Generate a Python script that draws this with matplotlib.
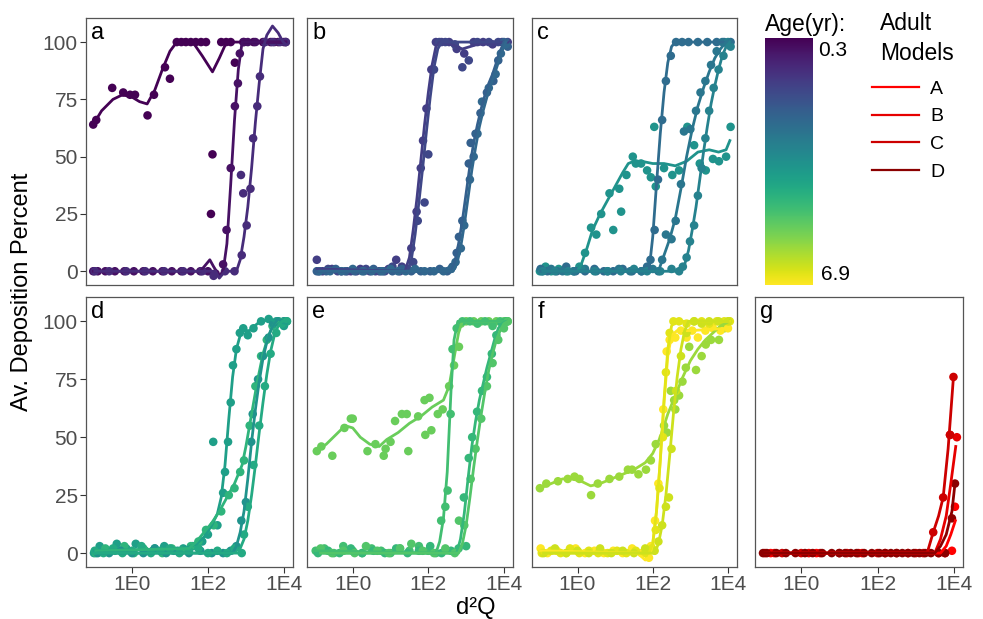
import numpy as np
import matplotlib
matplotlib.use("Agg")
import matplotlib.pyplot as plt
from matplotlib.colors import Normalize
from matplotlib.cm import ScalarMappable
from matplotlib.lines import Line2D

plt.rcParams['font.family'] = ['Liberation Sans', 'DejaVu Sans']

# x values are log10(d2Q); p* = measured points, l* = smoothed curve read off the chart
# ---- panel a ----
a1_px = [-1.02, -0.94, -0.52, -0.23, -0.05, 0.08, 0.41, 0.58, 0.87, 1.0, 1.18, 1.3, 1.42, 1.55, 1.68, 1.82, 1.95, 2.08, 2.12, 2.35, 2.48, 2.6, 2.71, 2.95, 3.2, 3.45, 3.65, 3.85, 4.05]
a1_py = [64, 66, 80, 78, 77, 77, 68, 77, 89, 84, 100, 100, 100, 100, 100, 100, 100, 25, 51, 100, 100, 100, 91, 100, 100, 100, 100, 100, 100]
a1_lx = [-1.02, -0.8, -0.5, -0.25, 0.0, 0.2, 0.4, 0.6, 0.8, 1.0, 1.18, 1.4, 1.6, 1.85, 2.12, 2.3, 2.49, 4.05]
a1_ly = [64, 70, 75, 77, 76, 74, 73, 79, 88, 96, 100, 101, 100, 94, 87, 93, 100, 100]
a2_px = [-1.02, -0.9, -0.7, -0.45, -0.2, 0.05, 0.3, 0.55, 0.8, 1.05, 1.3, 1.55, 1.8, 2.0, 2.2, 2.4, 2.49, 2.6, 2.71, 2.79, 2.84, 2.93, 3.05, 3.25, 3.5, 3.75, 4.0]
a2_py = [0, 0, 0, 0, 0, 0, 0, 0, 0, 0, 0, 0, 0, 0, -1, 3, 18, 45, 72, 82, 95, 100, 100, 100, 100, 100, 100]
a2_lx = [-1.02, 1.8, 1.95, 2.05, 2.15, 2.3, 2.4, 2.5, 2.6, 2.7, 2.8, 2.9, 4.05]
a2_ly = [0, 0, 3, 5, 2, -2, 0, 12, 38, 66, 88, 100, 100]
a3_px = [-0.98, -0.6, -0.15, 0.35, 0.85, 1.35, 1.85, 2.15, 2.45, 2.7, 2.87, 2.89, 2.93, 3.02, 3.12, 3.19, 3.3, 3.37, 3.5, 3.7, 3.9, 4.05]
a3_py = [0, 0, 0, 0, 0, 0, 0, -2, 0, 0, 42, 7, 34, 20, 36, 58, 72, 85, 100, 100, 100, 100]
a3_lx = [-0.98, 2.2, 2.3, 2.45, 2.75, 2.85, 2.95, 3.05, 3.15, 3.25, 3.35, 3.45, 3.55, 3.7, 3.85, 3.98, 4.05]
a3_ly = [0, 0, -3, 0, 0, 5, 15, 28, 45, 65, 82, 97, 103, 107, 104, 100, 99]
ages_a = [0.3, 0.6, 1.1]

# ---- panel b ----
b1_px = [-0.95, -0.8, -0.55, -0.3, -0.05, 0.2, 0.45, 0.7, 0.95, 1.15, 1.3, 1.42, 1.55, 1.69, 1.8, 1.86, 1.95, 2.08, 2.2, 2.35, 2.55, 2.75, 2.95, 3.2, 3.45, 3.7, 3.95, 4.1]
b1_py = [5, 0, 1, 0, 0, 1, 0, 0, 1, 5, 2, 1, 10, 26, 45, 57, 71, 88, 100, 100, 100, 97, 95, 100, 100, 99, 100, 100]
b1_lx = [-0.95, 1.38, 1.5, 1.6, 1.7, 1.8, 1.9, 2.0, 2.1, 2.2, 2.3, 2.6, 2.9, 3.3, 4.1]
b1_ly = [1, 0, 6, 18, 32, 48, 64, 78, 90, 98, 100, 99, 97, 99, 100]
b2_px = [-0.9, -0.65, -0.4, -0.15, 0.1, 0.35, 0.6, 0.85, 1.05, 1.25, 1.45, 1.6, 1.72, 1.9, 2.0, 2.15, 2.29, 2.45, 2.7, 2.9, 3.07, 3.3, 3.6, 3.85, 4.05]
b2_py = [0, 1, 0, 0, 0, 1, 0, 0, 2, 0, 1, 4, 22, 30, 51, 88, 100, 100, 99, 89, 92, 100, 100, 100, 99]
b2_lx = [-0.9, 1.45, 1.55, 1.65, 1.75, 1.85, 1.95, 2.05, 2.15, 2.25, 2.35, 4.05]
b2_ly = [0, 0, 5, 16, 30, 45, 61, 76, 89, 97, 100, 100]
b3_px = [-0.95, -0.7, -0.45, -0.2, 0.05, 0.3, 0.55, 0.8, 1.05, 1.3, 1.55, 1.8, 2.05, 2.3, 2.5, 2.64, 2.75, 2.81, 2.9, 3.07, 3.12, 3.25, 3.38, 3.55, 3.72, 3.85, 4.0, 4.1]
b3_py = [0, 0, 1, 0, 0, 0, 1, 0, 0, 1, 0, 0, 0, 1, 0, 2, 8, 15, 22, 47, 56, 60, 69, 78, 83, 92, 100, 98]
b3_lx = [-0.95, 2.6, 2.7, 2.8, 2.9, 3.0, 3.1, 3.2, 3.3, 3.4, 3.5, 3.6, 3.7, 3.8, 3.9, 4.0, 4.1]
b3_ly = [0, 0, 4, 12, 22, 34, 46, 56, 64, 71, 77, 82, 86, 91, 96, 100, 101]
b4_px = [-0.88, -0.6, -0.3, 0.0, 0.25, 0.5, 0.75, 1.0, 1.2, 1.4, 1.65, 1.9, 2.15, 2.4, 2.6, 2.72, 2.86, 2.95, 3.1, 3.2, 3.3, 3.42, 3.6, 3.78, 3.92, 4.05]
b4_py = [0, 0, 0, 1, 0, 0, 0, 1, 0, 0, 1, 0, 0, 0, 1, 4, 10, 20, 40, 50, 60, 74, 80, 86, 95, 99]
b4_lx = [-0.88, 2.65, 2.75, 2.85, 2.95, 3.05, 3.15, 3.25, 3.35, 3.45, 3.55, 3.65, 3.75, 3.85, 3.95, 4.05]
b4_ly = [0, 0, 3, 10, 20, 32, 44, 54, 63, 70, 76, 81, 86, 91, 96, 100]
ages_b = [1.5, 1.7, 2.3, 2.5]

# ---- panel c ----
c1_px = [-1.0, -0.85, -0.7, -0.5, -0.3, -0.1, 0.05, 0.2, 0.36, 0.5, 0.63, 0.85, 0.95, 1.11, 1.16, 1.3, 1.47, 1.55, 1.69, 1.85, 1.95, 2.04, 2.08, 2.3, 2.52, 2.7, 2.92, 3.1, 3.25, 3.41, 3.6, 3.76, 3.95, 4.07]
c1_py = [0, 2, 0, 1, 0, 0, 2, 8, 19, 16, 25, 34, 18, 36, 26, 42, 50, 47, 47, 44, 41, 63, 37, 45, 42, 44, 63, 55, 47, 44, 49, 48, 50, 63]
c1_lx = [-1.0, 0.0, 0.1, 0.25, 0.4, 0.6, 0.8, 1.0, 1.2, 1.35, 1.5, 1.7, 2.0, 2.3, 2.6, 2.9, 3.2, 3.5, 3.75, 3.95, 4.05]
c1_ly = [0, 0, 3, 10, 18, 25, 31, 37, 43, 47, 48, 48, 47, 47, 46, 48, 52, 53, 52, 53, 57]
c2_px = [-0.98, -0.8, -0.55, -0.3, -0.05, 0.2, 0.45, 0.7, 0.95, 1.2, 1.45, 1.7, 1.85, 1.94, 2.05, 2.14, 2.25, 2.35, 2.48, 2.62, 2.78, 2.95, 3.2, 3.45, 3.7, 3.9, 4.07]
c2_py = [1, 0, 0, 2, 0, 0, 1, 0, 0, 1, 0, 0, 2, 5, 18, 40, 66, 83, 94, 100, 100, 100, 100, 100, 100, 100, 100]
c2_lx = [-0.98, 1.9, 2.0, 2.1, 2.2, 2.3, 2.4, 2.5, 2.6, 4.07]
c2_ly = [0, 0, 15, 38, 60, 78, 91, 98, 100, 100]
c3_px = [-0.95, -0.7, -0.4, -0.1, 0.2, 0.5, 0.8, 1.1, 1.4, 1.7, 2.0, 2.15, 2.25, 2.35, 2.5, 2.61, 2.75, 2.83, 3.0, 3.15, 3.27, 3.4, 3.55, 3.7, 3.85, 4.0]
c3_py = [0, 1, 0, 0, 1, 0, 0, 1, 0, 0, 1, 0, 5, 16, 14, 22, 38, 61, 62, 70, 78, 83, 90, 96, 100, 99]
c3_lx = [-0.95, 2.15, 2.3, 2.45, 2.6, 2.75, 2.9, 3.05, 3.2, 3.35, 3.5, 3.65, 3.8, 3.95, 4.05]
c3_ly = [0, 0, 7, 14, 23, 36, 50, 62, 72, 80, 87, 93, 97, 100, 101]
c4_px = [-0.92, -0.6, -0.25, 0.1, 0.45, 0.8, 1.15, 1.5, 1.85, 2.2, 2.5, 2.7, 2.8, 2.9, 2.99, 3.1, 3.2, 3.3, 3.4, 3.5, 3.62, 3.75, 3.88, 4.0, 4.07]
c4_py = [0, 0, 0, 1, 0, 0, 0, 1, 0, 0, 1, 0, 2, 6, 13, 20, 33, 45, 58, 70, 80, 88, 94, 100, 98]
c4_lx = [-0.92, 2.75, 2.85, 2.95, 3.05, 3.15, 3.25, 3.35, 3.45, 3.55, 3.65, 3.75, 3.85, 3.95, 4.05]
c4_ly = [0, 0, 3, 9, 18, 28, 40, 52, 63, 73, 81, 88, 94, 98, 100]
ages_c = [3.7, 2.6, 2.9, 3.2]

# ---- panel d ----
d1_px = [-1.0, -0.85, -0.65, -0.4, -0.15, 0.1, 0.35, 0.6, 0.85, 1.1, 1.35, 1.6, 1.85, 2.0, 2.14, 2.25, 2.4, 2.45, 2.53, 2.6, 2.66, 2.75, 2.84, 2.93, 3.05, 3.2, 3.4, 3.6, 3.8, 4.0, 4.08]
d1_py = [0, 3, 1, 4, 2, 4, 1, 2, 3, 1, 2, 3, 5, 8, 48, 12, 26, 35, 48, 65, 81, 88, 95, 97, 94, 97, 100, 101, 100, 98, 100]
d1_lx = [-1.0, 1.4, 1.7, 1.9, 2.1, 2.25, 2.35, 2.45, 2.55, 2.65, 2.75, 2.85, 2.95, 3.1, 3.3, 3.6, 3.8, 4.08]
d1_ly = [1, 2, 4, 7, 12, 17, 24, 38, 58, 76, 88, 94, 96, 96, 99, 101, 100, 99]
d2_px = [-0.95, -0.7, -0.45, -0.2, 0.05, 0.3, 0.55, 0.8, 1.05, 1.3, 1.55, 1.75, 1.95, 2.15, 2.35, 2.55, 2.7, 2.85, 2.95, 3.1, 3.25, 3.4, 3.55, 3.7, 3.85, 4.0]
d2_py = [0, 2, 1, 3, 0, 2, 1, 0, 2, 1, 3, 5, 10, 12, 18, 25, 28, 35, 40, 55, 72, 85, 92, 98, 100, 100]
d2_lx = [-0.95, 1.5, 1.7, 1.9, 2.1, 2.3, 2.5, 2.7, 2.9, 3.0, 3.15, 3.3, 3.45, 3.6, 3.75, 3.9, 4.05]
d2_ly = [1, 2, 5, 9, 13, 18, 24, 30, 38, 46, 60, 74, 86, 94, 99, 101, 100]
d3_px = [-0.9, -0.6, -0.3, 0.0, 0.3, 0.6, 0.9, 1.2, 1.5, 1.8, 2.1, 2.4, 2.6, 2.75, 2.88, 3.0, 3.14, 3.18, 3.32, 3.45, 3.6, 3.72, 3.85, 4.0]
d3_py = [0, 0, 1, 0, 0, 2, 0, 1, 0, 1, 0, 0, 1, 3, 14, 22, 48, 60, 75, 85, 93, 99, 100, 100]
d3_lx = [-0.9, 2.65, 2.75, 2.85, 2.95, 3.05, 3.15, 3.25, 3.35, 3.45, 3.55, 3.65, 3.75, 3.85, 4.0]
d3_ly = [0, 0, 3, 9, 18, 32, 48, 62, 74, 84, 91, 96, 99, 101, 100]
d4_px = [-0.98, -0.75, -0.5, -0.25, 0.0, 0.25, 0.5, 0.75, 1.0, 1.25, 1.5, 1.75, 2.0, 2.25, 2.5, 2.7, 2.89, 2.95, 3.05, 3.2, 3.35, 3.5, 3.65, 3.8, 3.95, 4.08]
d4_py = [1, 0, 2, 0, 1, 3, 0, 1, 2, 0, 1, 2, 0, 1, 0, 2, 0, 8, 20, 38, 55, 72, 86, 95, 99, 100]
d4_lx = [-0.98, 2.8, 2.95, 3.05, 3.15, 3.25, 3.35, 3.45, 3.55, 3.65, 3.75, 3.85, 3.95, 4.08]
d4_ly = [0, 0, 6, 14, 25, 38, 52, 65, 77, 87, 94, 98, 100, 100]
ages_d = [4.0, 4.6, 3.7, 4.3]

# ---- panel e ----
e1_px = [-0.95, -0.83, -0.54, -0.22, -0.05, 0.0, 0.39, 0.6, 0.82, 0.87, 1.0, 1.12, 1.3, 1.43, 1.47, 1.73, 1.9, 1.92, 2.03, 2.08, 2.25, 2.38, 2.55, 2.68, 2.81, 2.86, 3.0, 3.2, 3.4, 3.6, 3.8, 4.0, 4.1]
e1_py = [44, 46, 42, 54, 58, 58, 44, 47, 42, 45, 48, 57, 60, 60, 44, 59, 66, 51, 67, 53, 60, 62, 72, 81, 89, 99, 100, 100, 100, 100, 100, 100, 100]
e1_lx = [-0.95, -0.7, -0.45, -0.2, 0.0, 0.2, 0.45, 0.7, 0.9, 1.2, 1.5, 1.8, 2.1, 2.4, 2.55, 2.7, 2.8, 2.9, 4.1]
e1_ly = [44, 47, 51, 55, 54, 50, 47, 46, 49, 52, 56, 59, 63, 66, 72, 86, 95, 100, 100]
e2_px = [-0.98, -0.75, -0.5, -0.25, 0.0, 0.25, 0.5, 0.75, 1.0, 1.25, 1.5, 1.75, 2.0, 2.2, 2.34, 2.45, 2.51, 2.59, 2.64, 2.75, 2.9, 3.1, 3.3, 3.5, 3.7, 3.9, 4.05]
e2_py = [1, 2, 0, 3, 1, 0, 2, 1, 0, 2, 1, 3, 1, 0, 14, 20, 27, 60, 88, 97, 100, 100, 99, 100, 98, 100, 100]
e2_lx = [-0.98, 2.2, 2.3, 2.4, 2.5, 2.6, 2.68, 2.78, 4.05]
e2_ly = [1, 0, 5, 15, 35, 70, 92, 100, 100]
e3_px = [-0.92, -0.65, -0.35, -0.05, 0.25, 0.55, 0.85, 1.15, 1.45, 1.75, 2.05, 2.35, 2.6, 2.8, 2.94, 3.0, 3.07, 3.16, 3.29, 3.42, 3.55, 3.68, 3.8, 3.95, 4.08]
e3_py = [0, 1, 0, 2, 0, 1, 0, 2, 0, 1, 3, 0, 1, 2, 24, 3, 41, 50, 61, 70, 76, 86, 94, 99, 100]
e3_lx = [-0.92, 2.75, 2.85, 2.95, 3.05, 3.15, 3.25, 3.35, 3.45, 3.55, 3.65, 3.75, 3.85, 3.95, 4.08]
e3_ly = [0, 0, 6, 17, 32, 46, 57, 66, 73, 80, 86, 92, 97, 99, 100]
e4_px = [-0.85, -0.55, -0.25, 0.05, 0.35, 0.65, 0.95, 1.25, 1.55, 1.85, 2.15, 2.45, 2.7, 2.81, 2.95, 3.12, 3.25, 3.4, 3.55, 3.7, 3.85, 4.0, 4.1]
e4_py = [2, 0, 1, 0, 3, 1, 0, 2, 4, 1, 0, 2, 0, 14, 12, 32, 45, 58, 72, 82, 92, 97, 100]
e4_lx = [-0.85, 2.8, 2.9, 3.0, 3.1, 3.2, 3.3, 3.4, 3.5, 3.6, 3.7, 3.8, 3.9, 4.0, 4.1]
e4_ly = [0, 0, 4, 12, 24, 37, 49, 60, 70, 79, 86, 92, 96, 99, 100]
ages_e = [5.4, 4.9, 4.7, 5.1]

# ---- panel f ----
f1_px = [-1.0, -0.83, -0.52, -0.26, -0.08, 0.05, 0.36, 0.54, 0.85, 1.11, 1.34, 1.45, 1.62, 1.82, 1.95, 2.08, 2.3, 2.38, 2.48, 2.57, 2.6, 2.7, 2.79, 2.88, 2.97, 3.15, 3.3, 3.41, 3.55, 3.76, 3.9, 4.03]
f1_py = [28, 30, 31, 32, 33, 32, 25, 30, 32, 33, 36, 36, 34, 36, 40, 47, 55, 52, 70, 66, 62, 68, 74, 80, 89, 79, 85, 90, 92, 92, 97, 100]
f1_lx = [-1.0, -0.7, -0.4, -0.15, 0.1, 0.35, 0.6, 0.9, 1.2, 1.5, 1.8, 2.0, 2.2, 2.4, 2.6, 2.8, 3.0, 3.2, 3.4, 3.6, 3.8, 4.03]
f1_ly = [28, 30, 32, 32, 31, 29, 30, 32, 34, 36, 39, 43, 50, 60, 68, 76, 83, 88, 92, 95, 98, 100]
f2_px = [-0.98, -0.8, -0.55, -0.3, -0.05, 0.2, 0.45, 0.7, 0.95, 1.2, 1.45, 1.7, 1.9, 1.95, 2.06, 2.15, 2.28, 2.37, 2.45, 2.6, 2.75, 2.9, 3.05, 3.2, 3.4, 3.6, 3.8, 4.0]
f2_py = [2, 0, 1, 0, 2, 0, 1, 0, 1, 0, 2, 0, -2, 3, 14, 30, 62, 87, 92, 93, 96, 93, 96, 93, 96, 97, 96, 97]
f2_lx = [-0.98, 1.6, 1.8, 1.9, 2.0, 2.1, 2.2, 2.3, 2.4, 2.5, 2.65, 3.0, 4.0]
f2_ly = [1, 0, -3, -2, 4, 18, 40, 65, 85, 94, 96, 96, 97]
f3_px = [-0.95, -0.7, -0.45, -0.2, 0.05, 0.3, 0.55, 0.8, 1.05, 1.3, 1.55, 1.8, 1.98, 2.08, 2.18, 2.27, 2.35, 2.45, 2.55, 2.7, 2.9, 3.1, 3.3, 3.5, 3.7, 3.9, 4.05]
f3_py = [0, 1, 0, 2, 0, 1, 0, 0, 1, 0, 1, 0, 2, 10, 28, 50, 78, 95, 100, 100, 99, 100, 100, 99, 100, 100, 100]
f3_lx = [-0.95, 1.9, 2.0, 2.1, 2.2, 2.3, 2.4, 2.5, 2.6, 4.05]
f3_ly = [0, 0, 4, 18, 40, 66, 88, 98, 100, 100]
f4_px = [-0.9, -0.6, -0.3, 0.0, 0.3, 0.6, 0.9, 1.2, 1.5, 1.8, 2.05, 2.15, 2.25, 2.35, 2.43, 2.5, 2.62, 2.75, 2.9, 3.1, 3.3, 3.5, 3.75, 4.0]
f4_py = [0, 2, 0, 1, 0, 2, 0, 1, 0, 2, 1, 5, 12, 20, 24, 45, 70, 85, 95, 100, 99, 100, 100, 100]
f4_lx = [-0.9, 2.05, 2.15, 2.25, 2.35, 2.45, 2.55, 2.65, 2.75, 2.85, 2.95, 4.0]
f4_ly = [0, 0, 4, 12, 25, 42, 60, 76, 88, 96, 100, 100]
ages_f = [5.9, 6.9, 6.6, 6.4]

# ---- panel g (adult models) ----
gA_px = [-0.8, 0.4, 1.6, 2.8, 3.77, 3.95, 4.03]
gA_py = [0, 0, 0, 0, 0, 1, 20]
gA_lx = [-0.8, 3.65, 3.8, 3.92, 4.04]
gA_ly = [0, 0, 3, 8, 14]
gB_px = [-0.7, 0.2, 1.2, 2.2, 3.2, 3.6, 3.9, 4.08]
gB_py = [0, 0, 0, 0, 0, 0, 51, 50]
gB_lx = [-0.7, 3.5, 3.65, 3.8, 3.92, 4.05]
gB_ly = [0, 0, 6, 16, 30, 46]
gC_px = [-0.95, -0.5, 0.0, 0.5, 1.0, 1.5, 2.0, 2.5, 3.0, 3.46, 3.72, 3.9, 3.99]
gC_py = [0, 0, 0, 0, 0, 0, 0, 0, 0, 9, 24, 51, 76]
gC_lx = [-0.95, 3.3, 3.46, 3.6, 3.72, 3.85, 3.99]
gC_ly = [0, 0, 9, 16, 24, 45, 76]
gD_px = [-1.0, -0.9, -0.65, -0.4, -0.15, 0.1, 0.3, 0.55, 0.8, 1.0, 1.15, 1.3, 1.45, 1.65, 1.85, 2.05, 2.2, 2.35, 2.5, 2.65, 2.8, 2.95, 3.1, 3.25, 3.4, 3.6, 3.77, 3.95, 4.03]
gD_py = [0, 0, 0, 0, 0, 0, 0, 0, 0, 0, 0, 0, 0, 0, 0, 0, 0, 0, 0, 0, 0, 0, 0, 0, 0, 0, 0, 15, 30]
gD_lx = [-1.0, 3.5, 3.65, 3.8, 3.95, 4.03]
gD_ly = [0, 0, 3, 8, 18, 30]
model_names = ['A', 'B', 'C', 'D']
model_colors = ['#FF0000', '#E60000', '#CC0000', '#8B0000']

panel_letters = ['a', 'b', 'c', 'd', 'e', 'f', 'g']
x_ticks = [1, 100, 10000]
x_ticklabels = ['1E0', '1E2', '1E4']
y_ticks = [0, 25, 50, 75, 100]
age_min, age_max = 0.3, 6.9

cmap = plt.get_cmap('viridis')
norm = Normalize(age_min, age_max)


def group(series, ages):
    return [(px, py, lx, ly, cmap(norm(a))) for (px, py, lx, ly), a in zip(series, ages)]


panels = [
    group([(a1_px, a1_py, a1_lx, a1_ly), (a2_px, a2_py, a2_lx, a2_ly),
           (a3_px, a3_py, a3_lx, a3_ly)], ages_a),
    group([(b1_px, b1_py, b1_lx, b1_ly), (b2_px, b2_py, b2_lx, b2_ly),
           (b3_px, b3_py, b3_lx, b3_ly), (b4_px, b4_py, b4_lx, b4_ly)], ages_b),
    group([(c1_px, c1_py, c1_lx, c1_ly), (c2_px, c2_py, c2_lx, c2_ly),
           (c3_px, c3_py, c3_lx, c3_ly), (c4_px, c4_py, c4_lx, c4_ly)], ages_c),
    group([(d1_px, d1_py, d1_lx, d1_ly), (d2_px, d2_py, d2_lx, d2_ly),
           (d3_px, d3_py, d3_lx, d3_ly), (d4_px, d4_py, d4_lx, d4_ly)], ages_d),
    group([(e1_px, e1_py, e1_lx, e1_ly), (e2_px, e2_py, e2_lx, e2_ly),
           (e3_px, e3_py, e3_lx, e3_ly), (e4_px, e4_py, e4_lx, e4_ly)], ages_e),
    group([(f1_px, f1_py, f1_lx, f1_ly), (f2_px, f2_py, f2_lx, f2_ly),
           (f3_px, f3_py, f3_lx, f3_ly), (f4_px, f4_py, f4_lx, f4_ly)], ages_f),
    [(gA_px, gA_py, gA_lx, gA_ly, model_colors[0]),
     (gB_px, gB_py, gB_lx, gB_ly, model_colors[1]),
     (gC_px, gC_py, gC_lx, gC_ly, model_colors[2]),
     (gD_px, gD_py, gD_lx, gD_ly, model_colors[3])],
]

W, H = 983, 619


def box(l, t, r, b):
    return [l / W, 1 - b / H, (r - l) / W, (b - t) / H]


cols = [(86, 293), (307, 513), (532, 737), (755, 963)]
rows = [(18, 285), (297, 567)]
slots = [(0, 0), (0, 1), (0, 2), (1, 0), (1, 1), (1, 2), (1, 3)]

fig = plt.figure(figsize=(W / 100, H / 100), dpi=100)

for letter, series, (r, c) in zip(panel_letters, panels, slots):
    ax = fig.add_axes(box(cols[c][0], rows[r][0], cols[c][1], rows[r][1]))
    for px, py, lx, ly, col in series:
        ax.scatter(10 ** np.array(px), py, s=38, color=col, edgecolors='none', zorder=2)
    for px, py, lx, ly, col in series:
        ax.plot(10 ** np.array(lx), ly, color=col, lw=2, zorder=3)
    ax.set_xscale('log')
    ax.set_xlim(10 ** -1.21, 10 ** 4.24)
    ax.set_ylim(-6, 110.5)
    ax.set_xticks(x_ticks)
    ax.set_xticklabels(x_ticklabels)
    ax.xaxis.set_minor_locator(matplotlib.ticker.NullLocator())
    ax.set_yticks(y_ticks)
    for s in ax.spines.values():
        s.set_color('#555555')
        s.set_linewidth(0.9)
    ax.tick_params(direction='out', length=4, width=0.8, color='#333333',
                   labelcolor='#4d4d4d', labelsize=15, pad=2)
    if r == 0:
        ax.tick_params(axis='x', bottom=False, labelbottom=False)
    if c != 0:
        ax.tick_params(axis='y', left=False, labelleft=False)
    ax.text(0.025, 0.985, letter, transform=ax.transAxes, ha='left', va='top',
            fontsize=17, color='black')

# colour bar for age
cax = fig.add_axes(box(765, 38, 813, 285))
cb = fig.colorbar(ScalarMappable(norm=norm, cmap=cmap), cax=cax)
cb.outline.set_visible(False)
cb.set_ticks([])
cax.invert_yaxis()
fig.text(765 / W, 1 - 25 / H, 'Age(yr):', ha='left', va='center', fontsize=16.5)
fig.text(818 / W, 1 - 50 / H, f'{age_min}', ha='left', va='center', fontsize=15)
fig.text(821 / W, 1 - 275 / H, f'{age_max}', ha='left', va='center', fontsize=15)

# legend for adult models
fig.text(880 / W, 1 - 23 / H, 'Adult', ha='left', va='center', fontsize=16.5)
fig.text(880 / W, 1 - 53 / H, 'Models', ha='left', va='center', fontsize=16.5)
handles = [Line2D([], [], color=c, lw=1.6) for c in model_colors]
fig.legend(handles, model_names, loc='upper left', bbox_to_anchor=(872 / W, 1 - 80 / H),
           frameon=False, fontsize=14, handlelength=2.4, labelspacing=0.52,
           handletextpad=0.6, borderpad=0, borderaxespad=0)

fig.text(22 / W, 1 - 292 / H, 'Av. Deposition Percent', rotation=90,
         ha='center', va='center', fontsize=17)
fig.text(476 / W, 1 - 608 / H, 'd²Q', ha='center', va='center', fontsize=17)

fig.savefig('out.png', dpi=100)
